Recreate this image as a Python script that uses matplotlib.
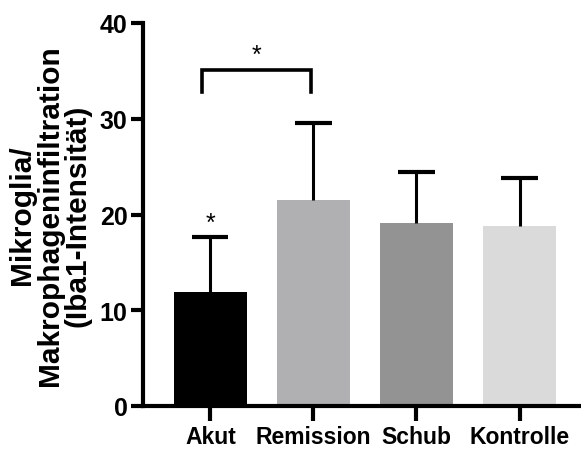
import matplotlib
matplotlib.use("Agg")
import matplotlib.pyplot as plt

categories = ["Akut", "Remission", "Schub", "Kontrolle"]
means = [11.9, 21.5, 19.1, 18.75]
sd_upper = [5.8, 8.1, 5.3, 5.1]
colors = ["#000000", "#b0b0b2", "#939393", "#dadada"]
yticks = [0, 10, 20, 30, 40]
ylabel = "Mikroglia/\nMakrophageninfiltration\n(Iba1-Intensität)"

# significance bracket between Akut and Remission
bracket_pair = (0, 1)
bracket_y = 35.1
bracket_leg = 2.3

fig = plt.figure(figsize=(5.81, 4.52), dpi=100)
ax = fig.add_axes([143/581, 1-407/452, 1-143/581, (407-24)/452])

x = list(range(len(categories)))
ax.bar(x, means, width=0.71, color=colors, zorder=2)
tops = [m + s for m, s in zip(means, sd_upper)]
ax.vlines(x, means, tops, color="black", lw=2.2, zorder=3)
ax.errorbar(x, tops, xerr=0.175, fmt="none", ecolor="black", elinewidth=3.0,
            capsize=0, zorder=3)

ax.set_xlim(-0.655, 3.597)
ax.set_ylim(0, 40)
ax.set_yticks(yticks)
ax.set_xticks(x)
ax.set_xticklabels(categories)
for s in ["top", "right"]:
    ax.spines[s].set_visible(False)
for s in ["left", "bottom"]:
    ax.spines[s].set_linewidth(3.0)
ax.spines["left"].set_capstyle("projecting")
ax.tick_params(axis="both", width=3.0, length=9, direction="out", pad=2)
ax.tick_params(axis="x", length=11, pad=3)
for lab in ax.get_yticklabels():
    lab.set_fontfamily("Liberation Sans")
    lab.set_fontweight("bold")
    lab.set_fontsize(18)
for lab in ax.get_xticklabels():
    lab.set_fontfamily("Liberation Sans")
    lab.set_fontweight("bold")
    lab.set_fontsize(16.5)

ax.set_ylabel(ylabel, fontsize=21.5, fontweight="bold", family="Liberation Sans",
              linespacing=1.0, labelpad=6)

# significance marks
x0, x1 = bracket_pair
ax.plot([x0 - 0.08, x0 - 0.08, x1 - 0.02, x1 - 0.02],
        [bracket_y - bracket_leg, bracket_y, bracket_y, bracket_y - bracket_leg],
        color="black", lw=2.6, solid_joinstyle="miter", clip_on=False)
ax.text((x0 + x1) / 2 - 0.05, bracket_y + 0.3, "*", ha="center", va="bottom",
        fontsize=18, family="Liberation Sans")
ax.text(x0, tops[0] + 0.2, "*", ha="center", va="bottom",
        fontsize=18, family="Liberation Sans")

fig.savefig("out.png", dpi=100)
